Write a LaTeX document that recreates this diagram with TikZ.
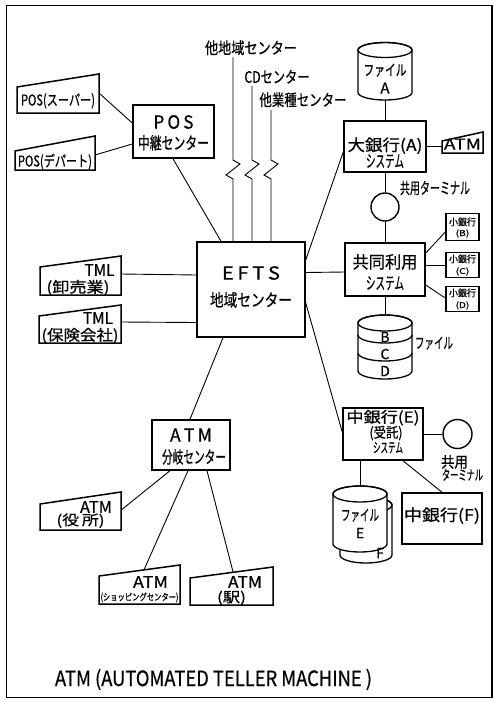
\documentclass[tikz,border=0pt]{standalone}
\usepackage{fontspec}
\setmainfont{Noto Sans CJK JP}[FakeBold=0.6]
\usepackage{graphicx}
\usetikzlibrary{calc}
\newcommand{\fw}[3]{\resizebox{#1pt}{\height}{\fontsize{#2}{#2}\selectfont #3}}
\newcommand{\fs}[2]{\leavevmode\hbox{\fontsize{#1}{#1}\selectfont #2}}
\newcommand{\LS}[1]{\lineskiplimit=-40pt\relax\lineskip=0pt\relax\fontsize{10}{#1}\selectfont}
\newcommand{\term}[4]{\draw[bl] ($(#1.center)+(-#2,#3)$) -- ($(#1.center)+(-#2,-#3)$) -- ($(#1.center)+(#2,-#3-#4)$) -- ($(#1.center)+(#2,#3)$) -- cycle;}
\newcommand{\cylbody}[5]{%
  \filldraw[line width=1.3pt, fill=white] (#1-#4,#2) -- (#1-#4,#3) arc[start angle=180, end angle=0, x radius=#4, y radius=#5] -- (#1+#4,#2) arc[start angle=0, end angle=-180, x radius=#4, y radius=#5] -- cycle;
  \draw[line width=1.3pt] (#1,#2) ellipse [x radius=#4, y radius=#5];}
\tikzset{
  bl/.style={line width=1.5pt, line join=miter},
  cn/.style={line width=0.9pt},
  bx/.style 2 args={draw, line width=1.5pt, inner sep=0pt, align=center, minimum width=#1pt, minimum height=#2pt, text width=#1pt},
  tm/.style 2 args={inner sep=0pt, align=center, minimum width=#1pt, minimum height=#2pt, text width=#1pt},
  th/.style={text height=#1pt, text depth=0pt},
  td/.style={text height=0pt, text depth=#1pt},
  ls/.style={font=\LS{#1}},
  lbl/.style={anchor=base, inner sep=0pt},
}
\begin{document}
\begin{tikzpicture}[x=1pt,y=-1pt]
\path[use as bounding box, fill=white] (0,0) rectangle (495,702);
\draw[line width=1.6pt] (6.5,5.5) rectangle (492,697.5);

% cylinders (drawn first)
\cylbody{385}{50}{92.5}{27}{7.5}
\cylbody{385}{323}{371}{27}{8}
\draw[line width=1.3pt] (358,335) arc[start angle=180, end angle=0, x radius=27, y radius=8];
\draw[line width=1.3pt] (358,353) arc[start angle=180, end angle=0, x radius=27, y radius=8];
\cylbody{366}{505}{555}{26}{8}
\cylbody{360}{494}{544}{27}{8}

% top labels
\node[lbl] (lblOther) at (251,53.9) {\fw{92}{16}{他地域センター}};
\node[lbl] (lblCD) at (277,82.9) {\fw{65}{16}{CDセンター}};
\node[lbl] (lblInd) at (303,105.9) {\fw{87}{16}{他業種センター}};

% POS
\node[tm={82}{26}, th=11.1] (posS) at (58,100) {\fw{74}{15}{POS(スーパー)}};
\term{posS}{41}{13}{13}
\node[tm={80}{19}, th=12.1] (posD) at (55,160.5) {\fw{74}{15}{POS(デパート)}};
\term{posD}{40}{9.5}{15}
\node[bx={81}{53}, td=5.8, ls=20.7] (posc) at (173.5,131.5) {\fw{40}{18}{P O S}\\\fw{71}{17}{中継センター}};

% EFTS
\node[bx={108}{95}, td=19.8, ls=26.7] (efts) at (251,289.5) {\fw{58}{18}{E F T S}\\\fw{82}{17}{地域センター}};

% TML
\node[tm={81}{28}, td=10.2, ls=16.65] (tml1) at (80.5,281) {\makebox[68pt][r]{\fw{30}{16}{TML}}\\\makebox[68pt][l]{\fw{63}{15}{(卸売業)}}};
\term{tml1}{40.5}{14}{11}
\node[tm={82}{27}, td=11.2, ls=16.65] (tml2) at (80,329.5) {\makebox[66pt][r]{\fw{30}{16}{TML}}\\\fw{77}{15}{(保険会社)}};
\term{tml2}{41}{13.5}{11}

% Bank A
\node[tm={54}{57}, th=8.1, ls=18] (fileA) at (385,71.5) {\fw{43}{15}{ファイル}\\\fs{15}{A}};
\node[bx={82}{51}, th=8.8, ls=16.4] (bankA) at (385,146.5) {\fw{75}{16}{大銀行(A)}\\\fw{38}{17}{システム}};
\node[tm={41}{12}, th=5.1] (atmT) at (462.5,147) {\fw{37}{15}{ATM}};
\term{atmT}{20.5}{6}{9}
\node[circle, draw, line width=1.4pt, minimum size=28pt, inner sep=0pt] (term1) at (385,207) {};
\node[lbl] (term1lbl) at (435,193.9) {\fw{70}{16}{共用ターミナル}};

% Kyodo
\node[bx={80}{53}, td=2.4, ls=21] (kyodo) at (385,269.5) {\fw{65}{17}{共同利用}\\\fw{38}{17}{システム}};
\node[bx={33}{27}, td=3, ls=10.5] (smB) at (462.5,227) {\fw{27}{9.5}{小銀行}\\\fw{14}{8}{(B)}};
\node[bx={33}{25}, td=5, ls=11.5] (smC) at (462.5,265) {\fw{27}{9.5}{小銀行}\\\fw{14}{8}{(C)}};
\node[bx={33}{25}, td=5, ls=11.5] (smD) at (462.5,299) {\fw{27}{9.5}{小銀行}\\\fw{14}{8}{(D)}};
\node[tm={54}{64}, td=9.6, ls=17] (fileBCD) at (385,347) {\fs{14}{B}\\\fs{14}{C}\\\fs{14}{D}};
\node[lbl] (fileBCDlbl) at (434,348.5) {\fw{38}{15}{ファイル}};

% Bank E / F
\node[bx={80}{52}, td=22.9, ls=15.1] (bankE) at (383,434) {\fw{73}{15}{中銀行(E)}\\\hspace*{6pt}\fw{33}{14}{(受託)}\\\hspace*{10pt}\fw{30}{14}{システム}};
\node[circle, draw, line width=1.4pt, minimum size=29pt, inner sep=0pt] (term2) at (457.5,434) {};
\node[lbl, text width=43pt, align=center, ls=12.65] (term2lbl) at (462.5,467.5) {\makebox[43pt][l]{\fw{27}{15}{共用}}\\\fw{41}{14}{ターミナル}};
\node[tm={54}{66}, th=3.1, ls=17.65] (fileE) at (360,519) {\fw{38}{15}{ファイル}\\\fs{14}{E}};
\node[tm={52}{66}, th=56.4] (fileF) at (366,530) {\hspace*{28pt}\fs{14}{F}};
\node[bx={80}{51}, th=4.8] (bankF) at (442,518.5) {\fw{76}{16}{中銀行(F)}};

% ATM branch
\node[bx={78}{50}, td=6.8, ls=21.7] (atmC) at (191,445) {\fw{42}{18}{A T M}\\\hspace*{6pt}\fw{64}{17}{分岐センター}};
\node[tm={81}{26}, td=8.2, ls=12.3] (atmY) at (80.5,517) {\hspace*{31pt}\fw{32}{16}{ATM}\\\fw{48}{14}{(役\,所)}\hspace*{3pt}};
\term{atmY}{40.5}{13}{12}
\node[tm={81}{28}, td=4.2, ls=12.6] (atmS) at (139.5,590) {\hspace*{22pt}\fw{35}{16}{ATM}\\\fw{78}{9.5}{(ショッピングセンター)}};
\term{atmS}{40.5}{14}{11}
\node[tm={83}{27}, td=7.2, ls=14.3] (atmE) at (231.5,591.5) {\hspace*{27pt}\fw{34}{16}{ATM}\\\fw{29}{14}{(駅)}};
\term{atmE}{41.5}{13.5}{11}

\node[lbl] (caption) at (213.5,686) {\fw{317}{21}{ATM (AUTOMATED TELLER MACHINE )}};

% connectors
\draw[cn] ($(posS.center)+(41,-7)$) -- ($(posc.west)+(0,-8.5)$);
\draw[cn] ($(posD.center)+(40,-5.5)$) -- ($(posc.west)+(0,12.5)$);
\draw[cn] ($(posc.south)+(-0.5,0)$) -- ($(efts.north)+(-30,0)$);
\coordinate (zig) at (0,160);
\coordinate (zA) at (233,57);
\coordinate (zB) at (252,86);
\coordinate (zC) at (271,110);
\foreach \z in {zA,zB,zC}{
  \draw[cn] (\z) -- (\z |- zig) -- ++(7,4) -- ++(-14,11) -- ++(7,4) -- (\z |- efts.north);
}
\draw[cn] ($(efts.east)+(0,-29.5)$) -- ($(bankA.west)+(0,5.5)$);
\draw[cn] ($(efts.east)+(0,-17)$) -- ($(kyodo.west)+(0,2.5)$);
\draw[cn] ($(efts.east)+(0,13.5)$) -- ($(bankE.west)+(0,-2)$);
\draw[cn] ($(tml1.east)+(0,-7)$) -- ($(efts.west)+(0,-14.5)$);
\draw[cn] ($(tml2.east)+(0,-7.5)$) -- ($(efts.west)+(0,33)$);
\draw[cn] ($(efts.south)+(-28,0)$) -- ($(atmC.north)+(-1,0)$);
\draw[cn] (fileA.south) -- (bankA.north);
\draw[cn] (bankA.east) -- (bankA.east -| atmT.west);
\draw[cn] (bankA.south) -- (term1.north);
\draw[cn] (term1.south) -- (kyodo.north);
\draw[cn] ($(kyodo.east)+(0,-16.5)$) -- ($(smB.west)+(0,5)$);
\draw[cn] (smC.west) -- (smC.west -| kyodo.east);
\draw[cn] ($(kyodo.east)+(0,15.5)$) -- ($(smD.west)+(0,-1)$);
\draw[cn] (kyodo.south) -- (fileBCD.north);
\draw[cn] (bankE.east) -- (term2.west);
\draw[cn] ($(bankE.south)+(-23,0)$) -- (fileE.north);
\draw[cn] ($(bankE.south)+(20,0)$) -- (bankF.north);
\draw[cn] ($(atmC.south)+(-21,0)$) -- ($(atmY.east)+(0,-7)$);
\draw[cn] ($(atmC.south)+(-3,0)$) -- ($(atmS.north)+(4.5,-6)$);
\draw[cn] ($(atmC.south)+(16,0)$) -- ($(atmE.north)+(1.5,-6)$);
\end{tikzpicture}
\end{document}
